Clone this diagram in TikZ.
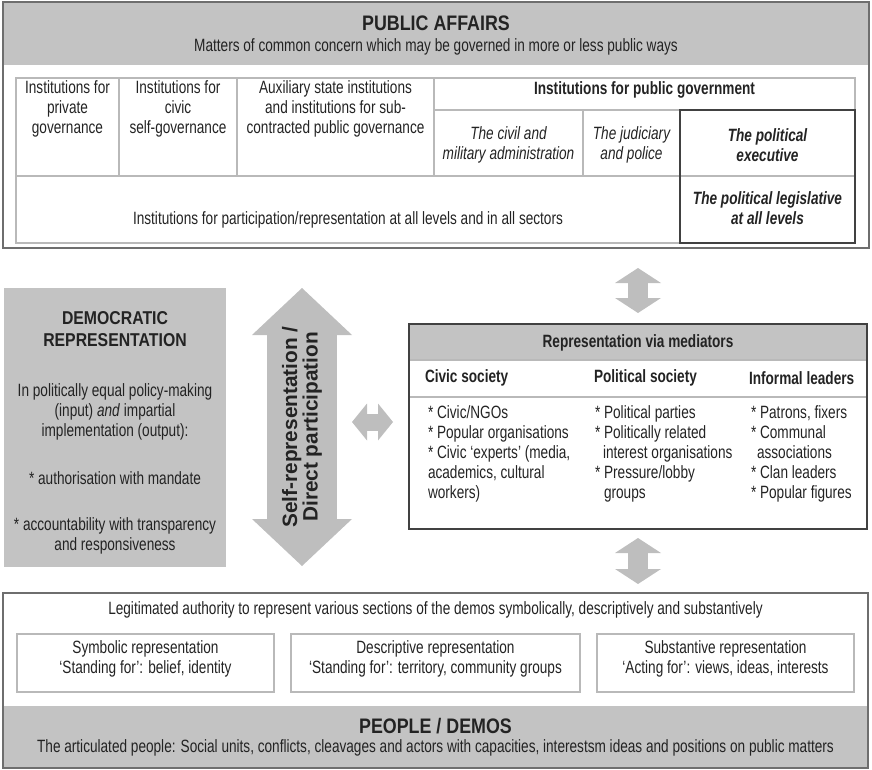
\documentclass[tikz,border=0pt]{standalone}
\usepackage{fontspec}
\setmainfont[FakeStretch=0.765]{Liberation Sans}
\newfontfamily\titlefont[FakeStretch=0.85]{Liberation Sans}
\newfontfamily\arrowfont{Liberation Sans}
\usetikzlibrary{arrows.meta,positioning}

\definecolor{ink}{RGB}{35,35,35}
\definecolor{panelgray}{RGB}{195,195,195}
\definecolor{arrowgray}{RGB}{190,190,190}
\definecolor{framegray}{RGB}{110,110,110}
\definecolor{rulegray}{RGB}{185,185,185}
\definecolor{darkframe}{RGB}{65,65,65}

\newcommand{\bodysize}{\fontsize{8.9}{10}\selectfont}
\newcommand{\titlesize}{\fontsize{10.5}{12}\selectfont\titlefont}

\begin{document}
\begin{tikzpicture}[x=0.5pt,y=-0.5pt,inner sep=0pt,outer sep=0pt,text=ink,font=\bodysize]
  \tikzstyle{panel}=[draw=framegray,line width=0.7pt,anchor=north west]
  \tikzstyle{panelfill}=[fill=panelgray,anchor=north west]
  \tikzstyle{cell}=[draw=rulegray,line width=0.6pt,anchor=north west]
  \tikzstyle{celltext}=[align=center]
  \tikzstyle{colhead}=[font=\bodysize\bfseries]
  \tikzstyle{bigtitle}=[font=\titlesize\bfseries]
  \tikzstyle{itemlist}=[align=left,anchor=north west]
  \tikzstyle{fatarrow}=[draw=arrowgray,line width=10pt,
    {Triangle[length=7.5pt,width=23pt,line width=0pt]}-{Triangle[length=7.5pt,width=23pt,line width=0pt]}]
  \tikzstyle{sidearrow}=[draw=arrowgray,line width=8.5pt,
    {Triangle[length=7.5pt,width=18.5pt,line width=0pt]}-{Triangle[length=7.5pt,width=18.5pt,line width=0pt]}]
  \tikzstyle{bigarrow}=[draw=arrowgray,line width=35pt,
    {Triangle[length=23.5pt,width=50pt,line width=0pt]}-{Triangle[length=23.5pt,width=50pt,line width=0pt]}]

  \useasboundingbox (0,0) rectangle (872,770);

  % public affairs
  \node[panelfill,minimum width=433pt,minimum height=31.5pt] (pubhead) at (3,2) {};
  \node[panel,minimum width=433pt,minimum height=123pt] (pubaff) at (3,2) {};
  \node[bigtitle] (pubtitle) at (436,23) {PUBLIC AFFAIRS};
  \node (pubsub) at (436,47) {Matters of common concern which may be governed in more or less public ways};

  \node[cell,minimum width=51.5pt,minimum height=49pt] (privgov) at (16,78) {};
  \node[cell,minimum width=59pt,minimum height=49pt] (civgov) at (119,78) {};
  \node[cell,minimum width=98.5pt,minimum height=49pt] (auxinst) at (237,78) {};
  \node[cell,minimum width=210.5pt,minimum height=16pt] (pubgov) at (434,78) {};
  \node[cell,minimum width=74.5pt,minimum height=33pt] (civmil) at (434,110) {};
  \node[cell,minimum width=48.5pt,minimum height=33pt] (judic) at (583,110) {};
  \node[cell,minimum width=87.5pt,minimum height=33pt] (polexec) at (680,110) {};
  \node[cell,minimum width=332pt,minimum height=33.5pt] (partrep) at (16,176) {};
  \node[cell,minimum width=87.5pt,minimum height=33.5pt] (pollegis) at (680,176) {};
  \draw[darkframe,line width=1pt] (polexec.north west) rectangle (pollegis.south east);

  \node[celltext] (privgovtxt) at (67.5,109) {Institutions for\\private\\governance};
  \node[celltext] (civgovtxt) at (178,109) {Institutions for\\civic\\self-governance};
  \node[celltext] (auxinsttxt) at (335.5,109) {Auxiliary state institutions\\and institutions for sub-\\contracted public governance};
  \node[colhead] (pubgovtxt) at (644.5,90) {Institutions for public government};
  \node[celltext,font=\bodysize\itshape] (civmiltxt) at (508.5,145) {The civil and\\military administration};
  \node[celltext,font=\bodysize\itshape] (judictxt) at (631.5,145) {The judiciary\\and police};
  \node[celltext,font=\bodysize\bfseries\itshape] (polexectxt) at (767.5,145) {The political\\executive};
  \node (partreptxt) at (348,220) {Institutions for participation/representation at all levels and in all sectors};
  \node[celltext,font=\bodysize\bfseries\itshape] (pollegistxt) at (767.5,208) {The political legislative\\at all levels};

  % democratic representation
  \node[panelfill,minimum width=111pt,minimum height=139.5pt] (demrep) at (4,288) {};
  \node[celltext,font=\fontsize{9.3}{11}\selectfont\titlefont\bfseries] (demtitle) at (115,329) {DEMOCRATIC\\REPRESENTATION};
  \node[celltext] (demtext) at (115,412) {In politically equal policy-making\\(input) \textit{and} impartial\\implementation (output):};
  \node (demauth) at (115,478) {* authorisation with mandate};
  \node[celltext] (demacc) at (115,536) {* accountability with transparency\\and responsiveness};

  \coordinate (selfbot) at (302,566);
  \coordinate (selftop) at (302,288);
  \draw[bigarrow] (selfbot) -- (selftop)
    node[midway,rotate=90,celltext,font=\fontsize{10.4}{10.2}\selectfont\arrowfont\bfseries] (selfrep) {Self-representation /\\Direct participation};

  % mediators
  \node[panelfill,minimum width=229pt,minimum height=18pt] (medhead) at (409,324) {};
  \node[cell,minimum width=229pt,minimum height=18.5pt] (medcols) at (409,360) {};
  \node[panel,draw=darkframe,line width=0.9pt,minimum width=229pt,minimum height=102.5pt] (medbox) at (409,324) {};
  \node[colhead] (medtitle) at (638,343) {Representation via mediators};
  \node[colhead,anchor=west] (civhead) at (425,378) {Civic society};
  \node[colhead,anchor=west] (polhead) at (594,378) {Political society};
  \node[colhead,anchor=west] (infhead) at (749,378) {Informal leaders};
  \node[itemlist] (civitems) at (428,406) {* Civic/NGOs\\* Popular organisations\\* Civic ‘experts’ (media,\\academics, cultural\\workers)};
  \node[itemlist] (politems) at (595,406) {* Political parties\\* Politically related\\\hspace*{4pt}interest organisations\\* Pressure/lobby\\\hspace*{4.5pt}groups};
  \node[itemlist] (infitems) at (751,406) {* Patrons, fixers\\* Communal\\\hspace*{3pt}associations\\* Clan leaders\\* Popular figures};

  % people / demos
  \node[panelfill,minimum width=432.5pt,minimum height=31pt] (demosband) at (3,706) {};
  \node[panel,minimum width=432.5pt,minimum height=87.5pt] (demos) at (3,593) {};
  \node (legit) at (435.5,610) {Legitimated authority to represent various sections of the demos symbolically, descriptively and substantively};
  \node[cell,minimum width=128.5pt,minimum height=29pt] (symrep) at (17,634) {};
  \node[cell,minimum width=144.5pt,minimum height=29pt] (descrep) at (291,634) {};
  \node[cell,minimum width=128.5pt,minimum height=29pt] (subrep) at (597,634) {};
  \node[celltext] (symreptxt) at (145.5,659) {Symbolic representation\\‘Standing for’: belief, identity};
  \node[celltext] (descreptxt) at (435.5,659) {Descriptive representation\\‘Standing for’: territory, community groups};
  \node[celltext] (subreptxt) at (725.5,659) {Substantive representation\\‘Acting for’: views, ideas, interests};
  \node[bigtitle] (demostitle) at (435.5,726) {PEOPLE / DEMOS};
  \node (demostxt) at (435.5,748) {The articulated people: Social units, conflicts, cleavages and actors with capacities, interestsm ideas and positions on public matters};

  % arrows
  \draw[fatarrow,shorten <=10pt,shorten >=5.5pt] (pubaff.south -| medbox.north) -- (medbox.north);
  \draw[fatarrow,shorten <=4.5pt,shorten >=4.5pt] (medbox.south) -- (medbox.south |- demos.north);
  \coordinate (sidetip) at (352,422);
  \draw[sidearrow,shorten >=8pt] (sidetip) -- (medbox.west |- sidetip);
\end{tikzpicture}
\end{document}
